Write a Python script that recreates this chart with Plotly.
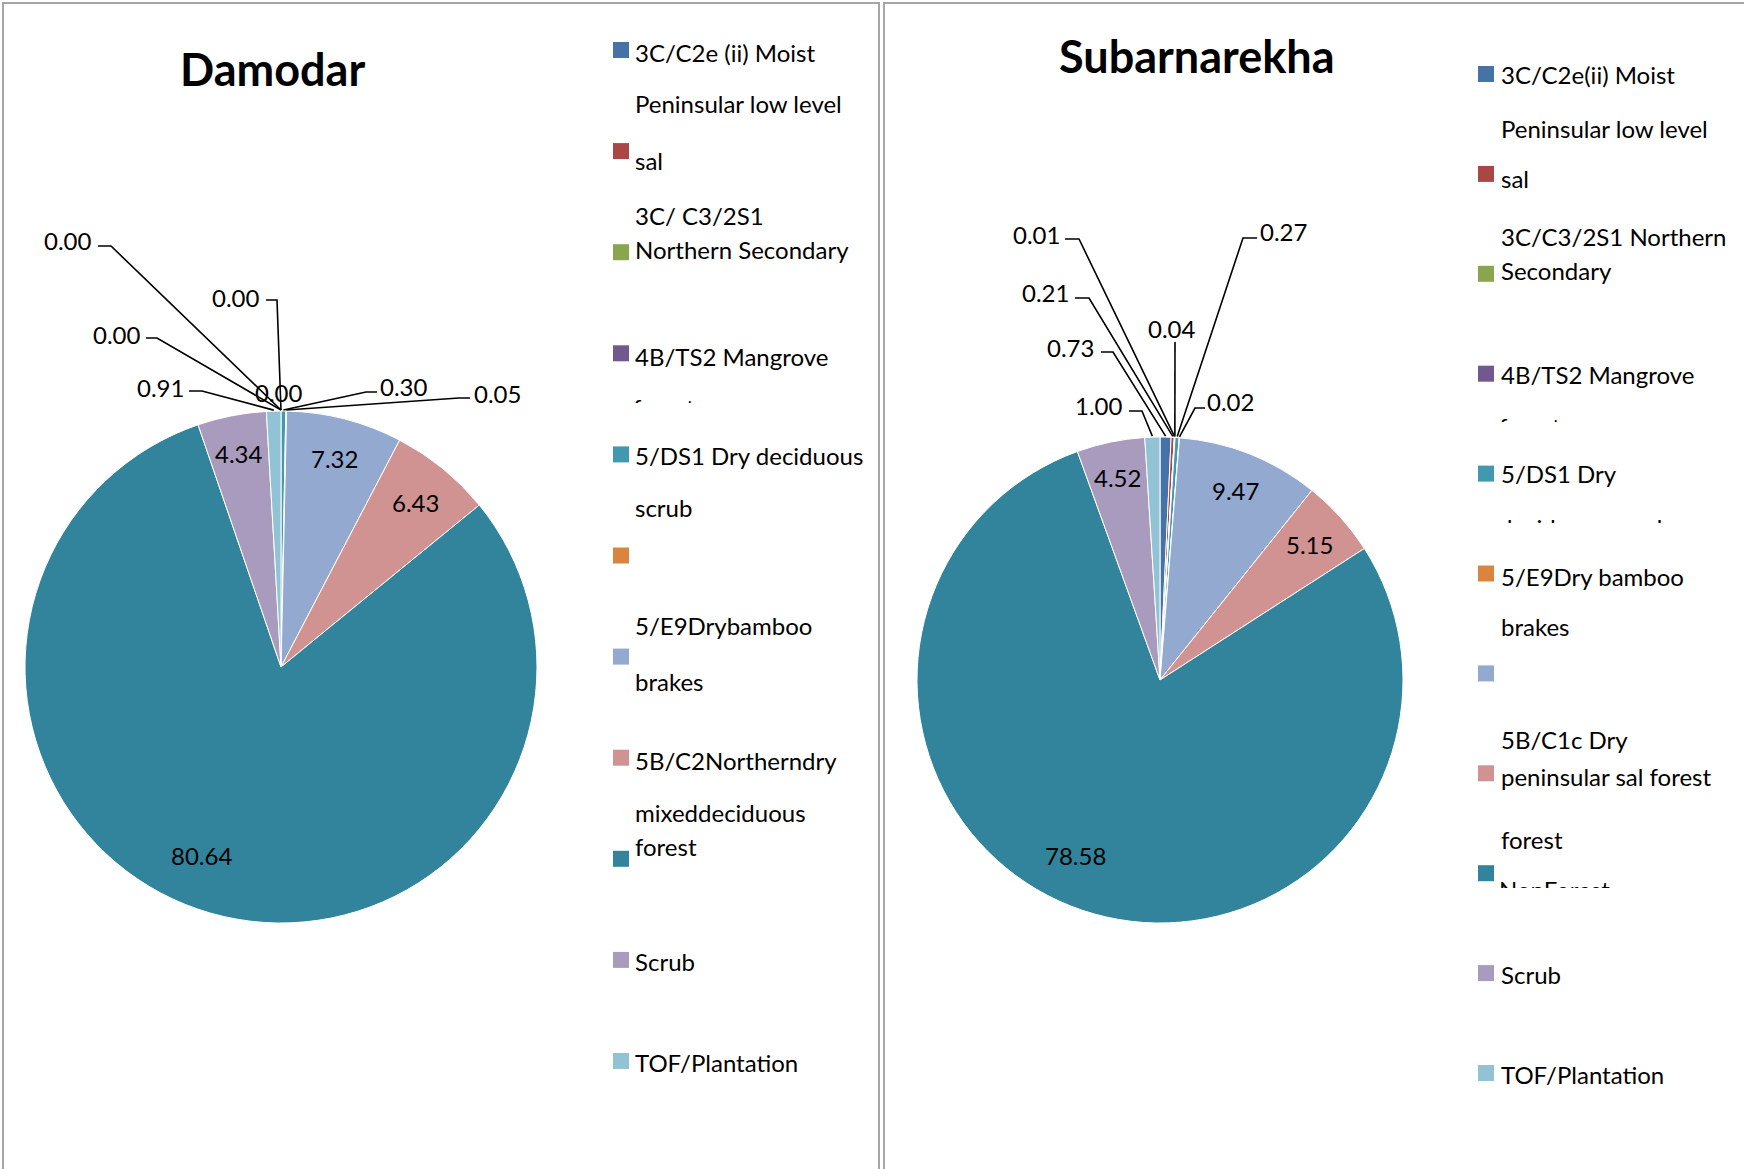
import math
import plotly.graph_objects as go

W, H = 1744, 1169
FONT = "Lato"

# ---------------- data ----------------
categories = [
    "3C/C2e(ii) Moist Peninsular low level sal",
    "3C/C3/2S1 Northern Secondary",
    "4B/TS2 Mangrove forest",
    "5/DS1 Dry deciduous scrub",
    "5/E9 Dry bamboo brakes",
    "5B/C1c Dry peninsular sal forest",
    "5B/C2 Northern dry mixed deciduous forest",
    "NonForest",
    "Scrub",
    "TOF/Plantation",
    "Other",
]
damodar_values = [0.00, 0.00, 0.00, 0.00, 0.30, 0.05, 7.32, 6.43, 80.64, 4.34, 0.91]
subarna_values = [0.73, 0.21, 0.01, 0.04, 0.27, 0.02, 9.47, 5.15, 78.58, 4.52, 1.00]

colors = ["#4572A7", "#AA4643", "#89A54E", "#71588F", "#4198AF", "#DB843D",
          "#93A9CF", "#D19392", "#31849B", "#A99BBD", "#92C3D4"]

titles = ["Damodar", "Subarnarekha"]

# legend text rows as printed in the original (wrapped / offset as in the source)
legend_rows_left = ["3C/C2e (ii) Moist", "Peninsular low level", "sal", "3C/ C3/2S1",
                    "Northern Secondary", "4B/TS2 Mangrove", "5/DS1 Dry deciduous", "scrub",
                    "5/E9Drybamboo", "brakes", "5B/C2Northerndry", "mixeddeciduous",
                    "forest", "Scrub", "TOF/Plantation"]
legend_rows_right = ["3C/C2e(ii) Moist", "Peninsular low level", "sal", "3C/C3/2S1 Northern",
                     "Secondary", "4B/TS2 Mangrove", "5/DS1 Dry", "5/E9Dry bamboo", "brakes",
                     "5B/C1c Dry", "peninsular sal forest", "forest", "Scrub", "TOF/Plantation"]
# legend text rows that are cut off in the original (only their tops show)
clipped_rows = ["forest", "forest", "deciduous scrub", "NonForest"]

# ---------------- layout (pixels) ----------------
pies = [
    dict(cx=281, cy=667, r=256, title_xy=(272, 69)),
    dict(cx=1160, cy=680, r=243, title_xy=(1196, 56)),
]
# leader-line labels: slice index -> (text x, text y, line start x, elbow x, line y)
leaders = [
    {0: (68, 241, 98, 111, 246), 1: (236, 297, 266, 277, 300), 2: (117, 335, 146, 157, 338),
     3: (279, 392, None, None, None), 4: (404, 386, 377, 366, 392), 5: (497, 393, 470, 459, 398),
     10: (160, 387, 189, 202, 391)},
    {2: (1036, 234, 1065, 1079, 239), 1: (1045, 292, 1075, 1089, 298), 0: (1070, 347, 1101, 1113, 352),
     10: (1099, 405, 1129, 1142, 411), 3: (1172, 328, 1175, 1175, 342), 4: (1283, 231, 1257, 1243, 238),
     5: (1230, 402, 1205, 1195, 408)},
]
inside_idx = [6, 7, 8, 9]
inside_rad = {6: 0.84, 7: 0.83, 8: 0.80, 9: 0.85}
inside_dang = {6: 0, 7: 0, 8: 7, 9: 0}

legend_left = dict(sx=613, tx=633, sy0=50, sstep=101.1,
                   rows_y=[52, 104, 160, 216, 250, 356, 456, 507, 625, 681, 760, 812, 846, 961, 1062])
legend_right = dict(sx=1478, tx=1499, sy0=74, sstep=99.9,
                    rows_y=[74, 128, 179, 237, 270, 374, 474, 576, 626, 740, 776, 839, 974, 1074])
# clipped rows: (text x, text centre y, clip y)
clipped_pos = [(633, 411, 403), (1499, 430, 422), (1499, 531, 523), (1499, 893, 888)]

FS = 24


def X(px):
    return px / W


def Y(py):
    return 1 - py / H


fig = go.Figure()
shapes = []
annotations = []

# panel borders
for x0, x1 in [(3, 879), (884, 1770)]:
    shapes.append(dict(type="rect", xref="paper", yref="paper", x0=X(x0), x1=X(x1),
                       y0=Y(1200), y1=Y(3), line=dict(color="#A6A6A6", width=2),
                       fillcolor="rgba(0,0,0,0)", layer="below"))

for k, (vals, p) in enumerate(zip([damodar_values, subarna_values], pies)):
    cx, cy, r = p["cx"], p["cy"], p["r"]
    fig.add_trace(go.Pie(
        values=vals, labels=categories, sort=False, direction="clockwise", rotation=0,
        marker=dict(colors=colors, line=dict(color="white", width=1)),
        textinfo="none", showlegend=False, name=titles[k],
        domain=dict(x=[X(cx - r), X(cx + r)], y=[Y(cy + r), Y(cy - r)]),
        hovertemplate="%{label}: %{value:.2f}<extra></extra>",
    ))
    total = sum(vals)
    cum = 0.0
    mids = []
    for v in vals:
        mids.append((cum + v / 2) / total)
        cum += v

    def pt(frac, rad, dang=0.0):
        a = 2 * math.pi * frac + math.radians(dang)
        return cx + rad * math.sin(a), cy - rad * math.cos(a)

    for i in inside_idx:
        x, y = pt(mids[i], r * inside_rad[i], inside_dang[i])
        annotations.append(dict(x=X(x), y=Y(y), xref="paper", yref="paper", showarrow=False,
                                text=f"{vals[i]:.2f}", font=dict(family=FONT, size=FS, color="black"),
                                xanchor="center", yanchor="middle"))
    for i, (tx, ty, lx, ex, ly) in leaders[k].items():
        annotations.append(dict(x=X(tx), y=Y(ty), xref="paper", yref="paper", showarrow=False,
                                text=f"{vals[i]:.2f}", font=dict(family=FONT, size=FS, color="black"),
                                xanchor="center", yanchor="middle"))
        if lx is not None:
            ex2, ey2 = pt(mids[i], r + 1)
            path = f"M {X(lx)} {Y(ly)} L {X(ex)} {Y(ly)} L {X(ex2)} {Y(ey2)}"
            shapes.append(dict(type="path", xref="paper", yref="paper", path=path,
                               line=dict(color="black", width=1.6), layer="above"))
    tx, ty = p["title_xy"]
    annotations.append(dict(x=X(tx), y=Y(ty), xref="paper", yref="paper", showarrow=False,
                            text=f"<b>{titles[k]}</b>", font=dict(family=FONT, size=45, color="black"),
                            xanchor="center", yanchor="middle"))

# legends
for leg, rows in [(legend_left, legend_rows_left), (legend_right, legend_rows_right)]:
    for i, c in enumerate(colors):
        yc = leg["sy0"] + leg["sstep"] * i
        shapes.append(dict(type="rect", xref="paper", yref="paper",
                           x0=X(leg["sx"]), x1=X(leg["sx"] + 16), y0=Y(yc + 8), y1=Y(yc - 8),
                           fillcolor=c, line=dict(width=0)))
    for txt, yc in zip(rows, leg["rows_y"]):
        annotations.append(dict(x=X(leg["tx"]), y=Y(yc), xref="paper", yref="paper", showarrow=False,
                                text=txt, font=dict(family=FONT, size=FS, color="black"),
                                xanchor="left", yanchor="middle"))

# clipped legend rows: text traces in tiny invisible subplots whose bottom edge cuts them
axes = {}
for j, (txt, (tx, ty, clip)) in enumerate(zip(clipped_rows, clipped_pos)):
    ya = f"y{j + 2}"
    fig.add_trace(go.Scatter(x=[tx], y=[ty], mode="text", text=[txt], textposition="middle right",
                             textfont=dict(family=FONT, size=FS, color="black"),
                             cliponaxis=True, showlegend=False, hoverinfo="skip",
                             xaxis="x", yaxis=ya))
    top = clip - 40
    axes[f"yaxis{j + 2}"] = dict(domain=[Y(clip), Y(top)], range=[clip, top], visible=False,
                                 fixedrange=True, anchor="x")

fig.update_layout(width=W, height=H, margin=dict(l=0, r=0, t=0, b=0),
                  paper_bgcolor="white", plot_bgcolor="rgba(0,0,0,0)",
                  xaxis=dict(domain=[0, 1], range=[0, W], visible=False, fixedrange=True),
                  yaxis=dict(visible=False, domain=[0, 0.01]),
                  shapes=shapes, annotations=annotations, **axes)
fig.write_html("out.html", config={"displayModeBar": False},
               post_script="document.body.style.margin='0';document.body.style.overflow='hidden';")
